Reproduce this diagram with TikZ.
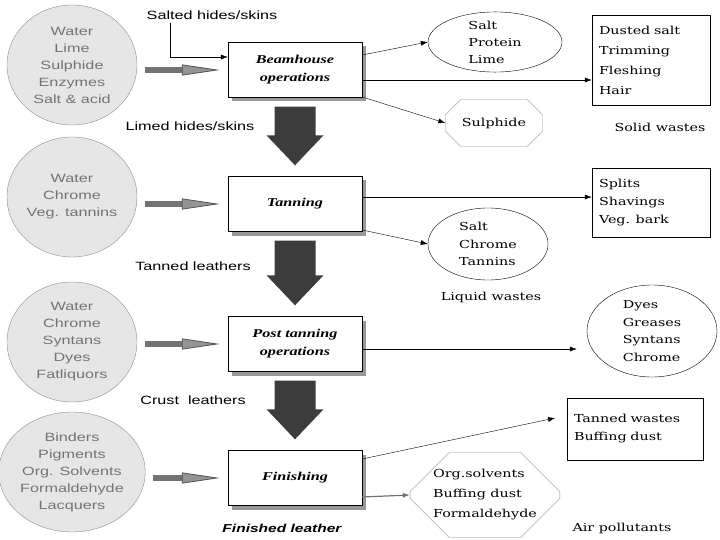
\documentclass[tikz,border=0pt]{standalone}
\usepackage{fontspec}
\setmainfont{Liberation Serif}
\newfontfamily\labelfont[FakeStretch=1.35]{Liberation Sans}
\newfontfamily\stepfont[FakeStretch=1.35]{Liberation Serif}
\newfontfamily\wastefont[FakeStretch=1.3]{DejaVu Serif}
\usetikzlibrary{calc,shapes.geometric,shapes.misc,shadows,arrows.meta}
\definecolor{inputfill}{HTML}{E6E6E6}
\definecolor{blockdark}{HTML}{3C3C3C}
\tikzset{
  input/.style = {ellipse, draw=black!45, fill=inputfill, minimum width=130pt, minimum height=120pt,
    inner sep=0pt, align=center, text=black!55, font=\labelfont\fontsize{12}{17}\selectfont},
  process/.style = {rectangle, draw, fill=white, minimum width=134pt, minimum height=55pt, align=center,
    font=\stepfont\fontsize{12}{18}\selectfont\bfseries\itshape,
    drop shadow={shadow xshift=4pt, shadow yshift=-4pt, fill=black!40, opacity=1}},
  waste/.style = {draw, inner sep=0pt, align=left, font=\wastefont\fontsize{11}{18}\selectfont},
  wastebox/.style = {waste, rectangle, inner sep=7pt},
  wasteoval/.style = {waste, ellipse},
  wasteoct/.style = {waste, chamfered rectangle, draw=black!45},
  note/.style = {font=\labelfont\fontsize{12}{14}\selectfont},
  tag/.style = {font=\wastefont\fontsize{11}{14}\selectfont},
  feed/.style = {line width=6pt, draw=black!55, shorten <=8pt, shorten >=8pt,
    -{Triangle[length=38pt, width=11pt, line width=0.8pt, fill=black!42, color=black!68]}},
  outflow/.style = {-{Latex[length=7pt, width=5pt]}, thin},
}
% block arrow from one step down to the next
\newcommand{\flowarrow}[2]{%
  \fill[blockdark] let \p1 = (#1.south), \p2 = (#2.north) in
    (\x1-20.5pt,\y1-9pt) -- (\x1+20.5pt,\y1-9pt) -- (\x1+20.5pt,\y2+41pt) -- (\x1+28.5pt,\y2+41pt)
    -- (\x1,\y2+11pt) -- (\x1-28.5pt,\y2+41pt) -- (\x1-20.5pt,\y2+41pt) -- cycle;%
}

\begin{document}
\begin{tikzpicture}[x=1pt, y=-1pt]
  \useasboundingbox (0,0) rectangle (720,540);
  % inputs
  \node[input] (in1) at (72,65) {Water\\Lime\\Sulphide\\Enzymes\\Salt \& acid};
  \node[input] (in2) at (72,197) {Water\\Chrome\\Veg. tannins};
  \node[input] (in3) at (72,342) {Water\\Chrome\\Syntans\\Dyes\\Fatliquors};
  \node[input] (in4) at (72,472) {Binders\\Pigments\\Org. Solvents\\Formaldehyde\\Lacquers};
  % steps
  \node[process] (beam) at (295,70) {Beamhouse\\operations};
  \node[process] (tan) at (295,204) {Tanning};
  \node[process] (post) at (295,344) {Post tanning\\operations};
  \node[process] (fin) at (295,478) {Finishing};
  % labels
  \node[note] (salted) at (212,15) {Salted hides/skins};
  \node[note] (limed) at (190,126) {Limed hides/skins};
  \node[note] (tanned) at (193,266) {Tanned leathers};
  \node[note] (crust) at (193,400) {Crust~ leathers};
  \node[note, font=\labelfont\fontsize{11.5}{14}\selectfont\bfseries\itshape] (finished) at (282,528) {Finished leather};
  % wastes
  \node[wasteoval, minimum width=134pt, minimum height=60pt, font=\wastefont\fontsize{11}{17}\selectfont] (o1) at (495,42) {Salt\\Protein\\Lime};
  \node[wastebox, minimum width=118pt, minimum height=90pt, text width=104pt, font=\wastefont\fontsize{11}{20}\selectfont] (s1) at (651,60) {Dusted salt\\Trimming\\Fleshing\\Hair};
  \node[wasteoct, minimum width=97pt, minimum height=47pt, chamfered rectangle xsep=9pt, chamfered rectangle ysep=10pt] (p1) at (494,123) {Sulphide};
  \node[wastebox, minimum width=118pt, minimum height=69pt, text width=104pt] (s2) at (651,202.5) {Splits\\Shavings\\Veg. bark};
  \node[wasteoval, minimum width=120pt, minimum height=72pt, font=\wastefont\fontsize{11}{17.5}\selectfont] (o2) at (488,244) {Salt\\Chrome\\Tannins};
  \node[wasteoval, minimum width=130pt, minimum height=92pt, font=\wastefont\fontsize{11}{17.5}\selectfont] (o3) at (652,331) {Dyes\\Greases\\Syntans\\Chrome};
  \node[wastebox, minimum width=136pt, minimum height=62pt, text width=122pt, inner sep=7pt] (s4) at (635,429) {Tanned wastes\\Buffing dust};
  \node[wasteoct, minimum width=144pt, minimum height=85pt, chamfered rectangle xsep=23pt, chamfered rectangle ysep=16pt, font=\wastefont\fontsize{11}{20}\selectfont] (p2) at (485,495) {Org.solvents\\Buffing dust\\Formaldehyde};
  \node[tag] (solid) at (660,127) {Solid wastes};
  \node[tag] (liquid) at (491,297) {Liquid wastes};
  \node[tag] (air) at (622,528) {Air pollutants};
  % feed arrows
  \draw[feed] (beam.west -| in1.east) -- (beam.west);
  \draw[feed] (tan.west -| in2.east) -- (tan.west);
  \draw[feed] (post.west -| in3.east) -- (post.west);
  \draw[feed] (fin.west -| in4.east) -- (fin.west);
  \draw[outflow] ($(salted.south west)+(27,0)$) |- ($(beam.west)+(0,-13)$);
  % main flow
  \flowarrow{beam}{tan}
  \flowarrow{tan}{post}
  \flowarrow{post}{fin}
  % outputs
  \coordinate (m1) at ($(beam.east)+(0,10)$);
  \coordinate (m2) at ($(tan.east)+(0,-7)$);
  \coordinate (m3) at ($(post.east)+(0,5)$);
  \draw[outflow] ($(beam.east)+(0,-15)$) -- (o1.west);
  \draw[outflow] (m1) -- (m1 -| s1.west);
  \draw[outflow] ($(beam.east)+(0,27)$) -- (p1.west);
  \draw[outflow] (m2) -- (m2 -| s2.west);
  \draw[outflow] ($(tan.east)+(0,26)$) -- (o2.west);
  \draw[outflow, shorten >=10pt] (m3) -- (m3 -| o3.west);
  \draw[outflow, shorten >=12pt] ($(fin.east)+(0,-19)$) -- ($(s4.west)+(0,-13.5)$);
  \draw[outflow, draw=black!55, line width=1.2pt] ($(fin.east)+(0,19)$) -- (p2.west);
\end{tikzpicture}
\end{document}
